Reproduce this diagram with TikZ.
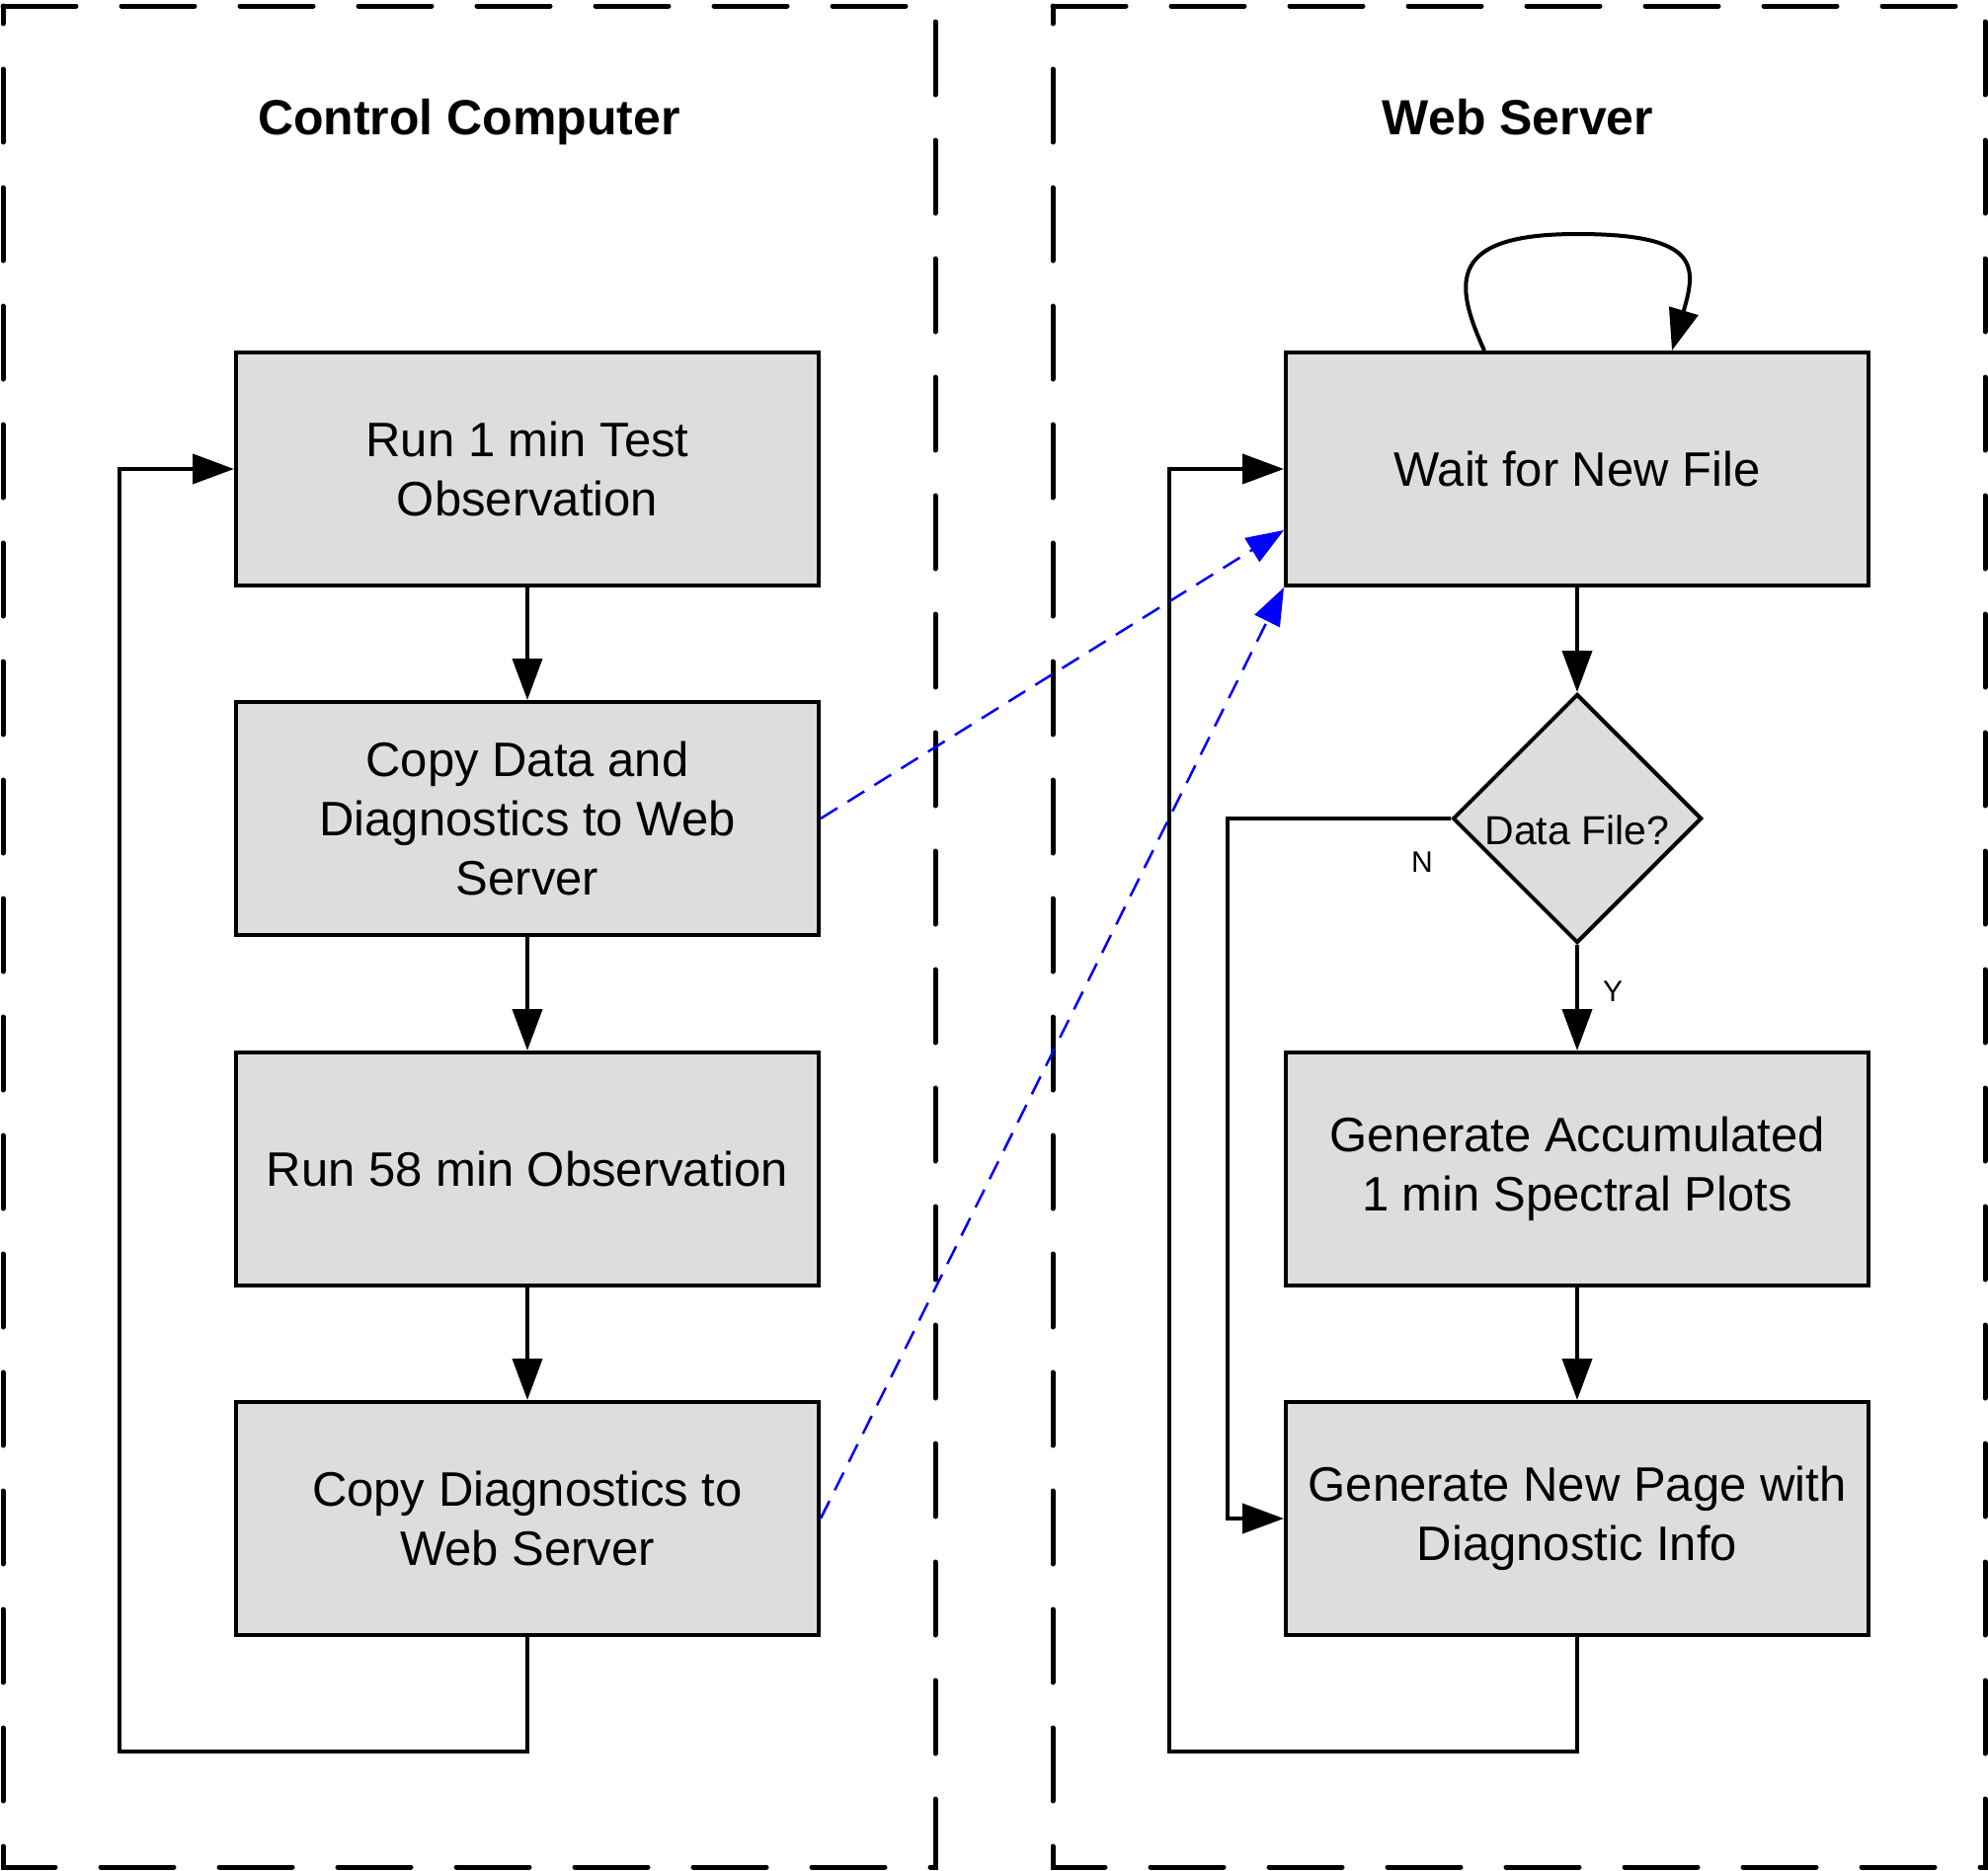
\documentclass[tikz,border=0pt]{standalone}
\usepackage{fontspec}
\setmainfont{Liberation Sans}
\usetikzlibrary{arrows.meta,shapes.geometric,calc}
\definecolor{boxgray}{RGB}{221,221,221}
\begin{document}
\begin{tikzpicture}[x=1pt,y=-1pt,
  box/.style={draw, line width=4pt, fill=boxgray, minimum width=590pt, minimum height=236pt,
    inner sep=0pt, align=center, font=\fontsize{49}{60}\selectfont},
  decision/.style={draw, diamond, aspect=1, line width=4pt, fill=boxgray, minimum width=252pt,
    minimum height=252pt, inner sep=0pt, font=\fontsize{41}{48}\selectfont},
  title/.style={font=\fontsize{50}{60}\selectfont\bfseries, anchor=base},
  lbl/.style={font=\fontsize{30}{36}\selectfont},
  frame/.style={draw, line width=5pt, line cap=round, dash pattern=on 74pt off 46pt},
  flow/.style={draw, line width=4pt, -{Triangle[length=42pt,width=30pt]}},
  xfer/.style={draw=blue, line width=2.5pt, dash pattern=on 20pt off 12pt,
    -{Triangle[length=38pt,width=28pt]}}
]
\useasboundingbox (0,0) rectangle (2013,1895);

% frames
\draw[frame] (3,6) -- (947,6) -- (947,1891) -- (3,1891) -- cycle;
\draw[frame] (1066,6) -- (2010,6) -- (2010,1891) -- (1066,1891) -- cycle;

\node[title] (tcc) at (475,136) {Control Computer};
\node[title] (tws) at (1537,136) {Web Server};

% left column
\node[box] (b1) at (534,475) {Run 1 min Test\\Observation};
\node[box] (b2) at (534,829) {Copy Data and\\Diagnostics to Web\\Server};
\node[box] (b3) at (534,1184) {Run 58 min Observation};
\node[box] (b4) at (534,1538) {Copy Diagnostics to\\Web Server};

% right column
\node[box] (w1) at (1597,475) {Wait for New File};
\node[decision] (dia) at (1597,829) {\raisebox{-26pt}[0pt][0pt]{Data File?}};
\node[box] (g1) at (1597,1184) {Generate Accumulated\\1 min Spectral Plots};
\node[box] (g2) at (1597,1538) {Generate New Page with\\Diagnostic Info};

% left flow
\draw[flow] (b1) -- (b2);
\draw[flow] (b2) -- (b3);
\draw[flow] (b3) -- (b4);
\coordinate (lb) at (121,1774);
\draw[flow] (b4.south) |- (lb) |- (b1.west);

% right flow
\draw[flow] (w1) -- (dia);
\draw[flow] (dia.south) -- (g1.north);
\draw[flow] (g1) -- (g2);
\coordinate (nx) at (1243,829);
\draw[flow] (dia.west) -- (nx) |- (g2.west);
\coordinate (rb) at (1184,1774);
\draw[flow] (g2.south) |- (rb) |- (w1.west);

\node[lbl] (ln) at (1440,873) {N};
\node[lbl] (ly) at (1633,1004) {Y};

% self loop
\coordinate (sa) at ($(w1.north west)+(203,0)$);
\coordinate (se) at ($(w1.north west)+(393,0)$);
\coordinate (st) at ($(w1.north)+(0,-118)$);
\draw[flow] (sa) .. controls +(-32,-70) and +(-130,0) .. (st)
  .. controls +(125,0) and +(25,-85) .. (se);

% transfers
\draw[xfer] (b2.east) -- ($(w1.west)+(0,62)$);
\draw[xfer] (b4.east) -- (w1.south west);
\end{tikzpicture}
\end{document}
